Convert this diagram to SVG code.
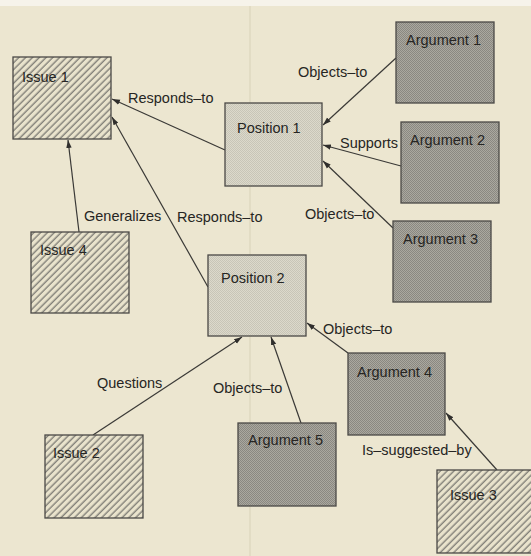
<svg xmlns="http://www.w3.org/2000/svg" width="531" height="556" viewBox="0 0 531 556">
  <style>
    .box { stroke: #4a4946; stroke-width: 1.3; }
    .issue { fill: url(#hatch); }
    .position { fill: url(#dotsLight); }
    .argument { fill: url(#dotsDark); }
    text { font-family: "Liberation Sans", Arial, sans-serif; font-size: 14.5px; fill: #262523; }
    .edge { stroke: #3a3936; stroke-width: 1.2; fill: none; marker-end: url(#arrow); }
  </style>
  <defs>
    <!-- diagonal hatching for issue nodes -->
    <pattern id="hatch" patternUnits="userSpaceOnUse" width="4.8" height="4.8" patternTransform="rotate(45)">
      <rect width="4.8" height="4.8" fill="#e9e3cc"/>
      <line x1="1.2" y1="0" x2="1.2" y2="4.8" stroke="#817f77" stroke-width="1.4"/>
    </pattern>
    <!-- fine screen tones for positions and arguments -->
    <pattern id="dotsLight" patternUnits="userSpaceOnUse" width="2" height="2">
      <rect width="2" height="2" fill="#dcd9cb"/>
      <rect width="1" height="1" fill="#c8c5b7"/>
      <rect x="1" y="1" width="1" height="1" fill="#c8c5b7"/>
    </pattern>
    <pattern id="dotsDark" patternUnits="userSpaceOnUse" width="2" height="2">
      <rect width="2" height="2" fill="#aaa89f"/>
      <rect width="1" height="1" fill="#8a8881"/>
      <rect x="1" y="1" width="1" height="1" fill="#8a8881"/>
    </pattern>
    <marker id="arrow" markerUnits="userSpaceOnUse" markerWidth="9" markerHeight="7" refX="8" refY="3.5" orient="auto">
      <path d="M0,0.8 L8,3.5 L0,6.2 Z" fill="#2f2e2c"/>
    </marker>
  </defs>

  <!-- paper -->
  <rect width="531" height="556" fill="#ece6d0"/>
  <rect width="531" height="6" fill="#f6f3ea"/>
  <line x1="250" y1="6" x2="250" y2="556" stroke="#dcd5bd" stroke-width="1.2"/>

  <!-- connectors -->
  <g id="connectors">
    <line class="edge" x1="225" y1="150" x2="112" y2="99"/>
    <line class="edge" x1="208" y1="287" x2="112" y2="117"/>
    <line class="edge" x1="79" y1="232" x2="68" y2="140"/>
    <line class="edge" x1="396" y1="58" x2="323" y2="125"/>
    <line class="edge" x1="401" y1="166" x2="323" y2="145"/>
    <line class="edge" x1="393" y1="228" x2="323" y2="161"/>
    <line class="edge" x1="348" y1="353" x2="307" y2="323"/>
    <line class="edge" x1="93" y1="435" x2="242" y2="337"/>
    <line class="edge" x1="301" y1="423" x2="271" y2="337"/>
    <line class="edge" x1="497" y1="470" x2="446" y2="413"/>

    <text x="128" y="103">Responds–to</text>
    <text x="298" y="77">Objects–to</text>
    <text x="340" y="148">Supports</text>
    <text x="305" y="219">Objects–to</text>
    <text x="84" y="221">Generalizes</text>
    <text x="177" y="222">Responds–to</text>
    <text x="323" y="334">Objects–to</text>
    <text x="97" y="388">Questions</text>
    <text x="213" y="393">Objects–to</text>
    <text x="362" y="455">Is–suggested–by</text>
  </g>

  <!-- nodes -->
  <g id="issue1">
    <rect class="box issue" x="13" y="57" width="98" height="82"/>
    <text x="22" y="82">Issue 1</text>
  </g>
  <g id="position1">
    <rect class="box position" x="225" y="103" width="97" height="83"/>
    <text x="237" y="133">Position 1</text>
  </g>
  <g id="argument1">
    <rect class="box argument" x="396" y="22" width="98" height="81"/>
    <text x="406" y="45">Argument 1</text>
  </g>
  <g id="argument2">
    <rect class="box argument" x="401" y="122" width="98" height="81"/>
    <text x="410" y="145">Argument 2</text>
  </g>
  <g id="argument3">
    <rect class="box argument" x="393" y="221" width="98" height="81"/>
    <text x="403" y="244">Argument 3</text>
  </g>
  <g id="issue4">
    <rect class="box issue" x="31" y="232" width="98" height="81"/>
    <text x="40" y="255">Issue 4</text>
  </g>
  <g id="position2">
    <rect class="box position" x="208" y="255" width="98" height="81"/>
    <text x="221" y="283">Position 2</text>
  </g>
  <g id="argument4">
    <rect class="box argument" x="348" y="353" width="97" height="82"/>
    <text x="357" y="377">Argument 4</text>
  </g>
  <g id="issue2">
    <rect class="box issue" x="45" y="435" width="98" height="83"/>
    <text x="53" y="458">Issue 2</text>
  </g>
  <g id="argument5">
    <rect class="box argument" x="238" y="423" width="98" height="83"/>
    <text x="248" y="445">Argument 5</text>
  </g>
  <g id="issue3">
    <rect class="box issue" x="437" y="470" width="100" height="83"/>
    <text x="450" y="500">Issue 3</text>
  </g>
</svg>
